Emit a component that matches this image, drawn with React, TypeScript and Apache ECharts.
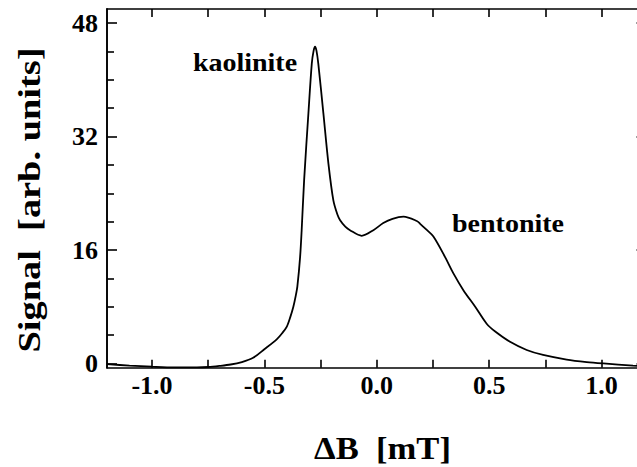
import React, { useEffect, useRef } from "react";
import * as echarts from "echarts";

// ΔB [mT]
const fieldValues = [
  -1.2, -1.1, -1.0, -0.9, -0.8, -0.75, -0.7, -0.65, -0.6, -0.55, -0.5, -0.445, -0.42,
  -0.4, -0.385, -0.371, -0.36, -0.353, -0.341, -0.334, -0.323, -0.304, -0.289, -0.281,
  -0.2745, -0.268, -0.26, -0.2375, -0.215, -0.193, -0.175, -0.163, -0.14, -0.119, -0.067,
  -0.015, 0.029, 0.07, 0.119, 0.178, 0.193, 0.22, 0.252, 0.304, 0.341, 0.386, 0.438,
  0.489, 0.527, 0.593, 0.667, 0.74, 0.845, 0.934, 1.008, 1.14, 1.2,
];
// Signal [arb. units]
const signalValues = [
  -0.1, -0.3, -0.45, -0.55, -0.55, -0.5, -0.35, -0.15, 0.2, 0.8, 2.0, 3.4, 4.3,
  5.2, 6.5, 8.0, 9.6, 10.9, 15.0, 18.8, 25.9, 35.3, 42.3, 44.1,
  44.7, 44.1, 42.3, 35.3, 28.2, 23.0, 21.0, 20.2, 19.3, 18.8, 18.0,
  18.8, 19.8, 20.4, 20.7, 20.1, 19.7, 18.9, 17.9, 15.0, 12.7, 10.3, 8.0,
  5.6, 4.5, 3.05, 1.9, 1.2, 0.55, 0.2, 0.0, -0.3, -0.4,
];

const xMajorLabels = [-1.0, -0.5, 0.0, 0.5, 1.0];
const xTicks = [-1.0, -0.75, -0.5, -0.25, 0.0, 0.25, 0.5, 0.75, 1.0];
const yMajor = [0, 16, 32, 48];
const yMinor = [4, 8, 12, 20, 24, 28, 36, 40, 44];

const annotations = [
  { text: "kaolinite", x: 245, y: 63 },
  { text: "bentonite", x: 508, y: 224 },
];
const xTitle = "ΔB  [mT]";
const yTitle = "Signal  [arb. units]";

const FONT = "Liberation Serif";

export default function App() {
  const ref = useRef<HTMLDivElement>(null);
  useEffect(() => {
    if (!ref.current) return;
    const chart = echarts.init(ref.current, null, { renderer: "svg" });
    const lineStyle = { color: "#000", width: 1.6 };
    const baseX = {
      type: "value",
      min: -1.2,
      max: 1.2,
      splitLine: { show: false },
      axisLine: { show: true, onZero: false, lineStyle },
      axisTick: { show: true, inside: true, length: 8, lineStyle, customValues: xTicks },
    };
    const baseY = {
      type: "value",
      min: -0.6,
      max: 50,
      splitLine: { show: false },
      axisLine: { show: true, onZero: false, lineStyle },
    };
    const txt = (size: number) => ({
      fill: "#000",
      fontFamily: FONT,
      fontWeight: "bold",
      fontSize: size,
      align: "center",
      verticalAlign: "middle",
      textAlign: "center",
      textVerticalAlign: "middle",
    });
    chart.setOption({
      animation: false,
      backgroundColor: "#fff",
      grid: { left: 107, top: 9, width: 539.5, height: 358.7 },
      xAxis: [
        {
          ...baseX,
          position: "bottom",
          axisLabel: {
            show: true,
            customValues: xMajorLabels,
            formatter: (v: number) => v.toFixed(1),
            color: "#000",
            fontFamily: FONT,
            fontWeight: "bold",
            fontSize: 26,
            margin: 5,
          },
        },
        { ...baseX, position: "top", axisLabel: { show: false } },
      ],
      yAxis: [
        {
          ...baseY,
          position: "left",
          axisTick: { show: true, inside: true, length: 10, lineStyle, customValues: yMajor },
          axisLabel: {
            show: true,
            customValues: yMajor,
            color: "#000",
            fontFamily: FONT,
            fontWeight: "bold",
            fontSize: 26,
            margin: 9,
          },
        },
        {
          ...baseY,
          position: "left",
          axisTick: { show: true, inside: true, length: 7, lineStyle, customValues: yMinor },
          axisLabel: { show: false },
        },
        {
          ...baseY,
          position: "right",
          axisTick: { show: true, inside: true, length: 10, lineStyle, customValues: yMajor },
          axisLabel: { show: false },
        },
        {
          ...baseY,
          position: "right",
          axisTick: { show: true, inside: true, length: 7, lineStyle, customValues: yMinor },
          axisLabel: { show: false },
        },
      ],
      series: [
        {
          type: "line",
          xAxisIndex: 0,
          yAxisIndex: 0,
          data: fieldValues.map((x, i) => [x, signalValues[i]]),
          smooth: 0.3,
          showSymbol: false,
          symbol: "none",
          clip: false,
          lineStyle: { color: "#000", width: 1.8 },
        },
      ],
      graphic: [
        ...annotations.map((a) => ({
          type: "text",
          x: a.x,
          y: a.y,
          scaleX: 1.12,
          style: { text: a.text, ...txt(25) },
        })),
        {
          type: "text",
          x: 382.5,
          y: 448,
          scaleX: 1.08,
          style: { text: xTitle, ...txt(32) },
        },
        {
          type: "text",
          x: 30,
          y: 200,
          rotation: Math.PI / 2,
          scaleX: 1.2,
          style: { text: yTitle, ...txt(32) },
        },
      ],
    });
    return () => chart.dispose();
  }, []);
  return (
    <div style={{ position: "absolute", left: 0, top: 0, width: 637, height: 467, overflow: "hidden" }}>
      <div ref={ref} style={{ width: 660, height: 467 }} />
    </div>
  );
}
